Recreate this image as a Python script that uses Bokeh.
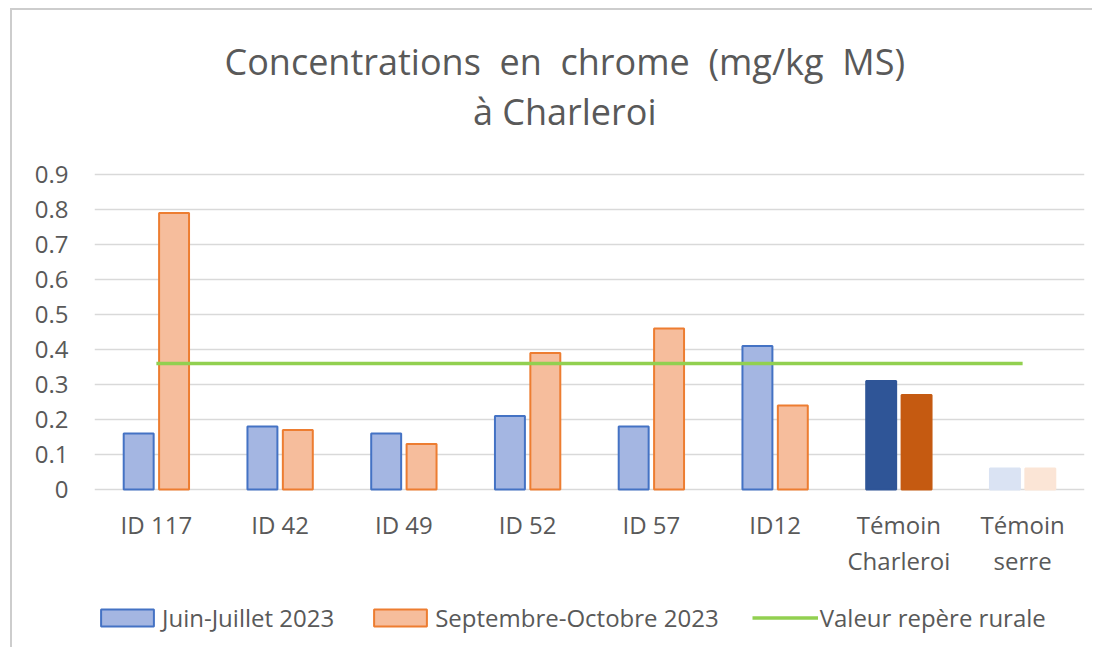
from bokeh.plotting import figure
from bokeh.models import ColumnDataSource, FactorRange, Range1d, Label, Legend, LegendItem
from bokeh.transform import dodge
from bokeh.core.properties import value
from bokeh.embed import file_html
from bokeh.resources import INLINE

categories = ["ID 117", "ID 42", "ID 49", "ID 52", "ID 57", "ID12", "Témoin\nCharleroi", "Témoin\nserre"]
juin_juillet = [0.16, 0.18, 0.16, 0.21, 0.18, 0.41, 0.31, 0.06]
sept_oct = [0.79, 0.17, 0.13, 0.39, 0.46, 0.24, 0.27, 0.06]
valeur_repere = [0.36] * len(categories)
y_ticks = [0, 0.1, 0.2, 0.3, 0.4, 0.5, 0.6, 0.7, 0.8, 0.9]
series_names = ["Juin-Juillet 2023", "Septembre-Octobre 2023", "Valeur repère rurale"]
title_lines = ["Concentrations en chrome (mg/kg MS)", "à Charleroi"]

FONT = "Open Sans"
GREY = "#595959"

blue_fill = ["#A4B6E2"] * 6 + ["#2F5597", "#DAE3F3"]
blue_line = ["#4472C4"] * 6 + ["#2F5597", "#DAE3F3"]
orange_fill = ["#F6BD9C"] * 6 + ["#C55A11", "#FBE5D6"]
orange_line = ["#ED7D31"] * 6 + ["#C55A11", "#FBE5D6"]

src = ColumnDataSource(dict(cat=categories, a=juin_juillet, b=sept_oct, ref=valeur_repere,
                            zero=[0] * len(categories),
                            bf=blue_fill, bl=blue_line, of=orange_fill, ol=orange_line))

# frame: 990 x 620 px, 350 px per 1.0 unit on y; room above for the title, below for labels/legend
p = figure(width=1082, height=639, x_range=FactorRange(*categories),
           y_range=Range1d(-0.4571, 1.3143), title_location=None,
           output_backend="svg", toolbar_location=None,
           min_border_left=82, min_border_right=10, min_border_top=19, min_border_bottom=0)
p.styles = {"border-left": "2px solid #CDCDCD", "border-top": "2px solid #CDCDCD",
            "margin-left": "10px", "margin-top": "8px"}
p.outline_line_color = None

r1 = p.vbar(x=dodge("cat", -0.143, range=p.x_range), top="a", width=0.242, source=src,
            fill_color="bf", line_color="bl", line_width=2)
r2 = p.vbar(x=dodge("cat", 0.143, range=p.x_range), top="b", width=0.242, source=src,
            fill_color="of", line_color="ol", line_width=2)
r3 = p.line(x="cat", y="ref", source=src, line_color="#92D050", line_width=3.5)

# category labels under the zero line
p.text(x="cat", y="zero", text="cat", source=src, text_align="center", text_baseline="top",
       y_offset=18, text_font=value(FONT), text_font_size="24px", text_color=GREY,
       text_line_height=1.1)

p.xaxis.visible = False
p.yaxis.ticker = y_ticks
p.ygrid.ticker = y_ticks
p.ygrid.grid_line_color = "#D9D9D9"
p.ygrid.grid_line_width = 1.5
p.xgrid.grid_line_color = None
p.yaxis.axis_line_color = None
p.yaxis.major_tick_line_color = None
p.yaxis.minor_tick_line_color = None
p.yaxis.major_label_text_font = FONT
p.yaxis.major_label_text_color = GREY
p.yaxis.major_label_text_font_size = "24px"
p.yaxis.major_label_standoff = 20

# Excel-like wide word spacing in the first title line
title1 = title_lines[0].replace(" ", " \u00a0")
p.add_layout(Label(x=3.8, y=1.223, text=title1, text_align="center",
                   text_baseline="middle", text_font=FONT, text_font_size="36px",
                   text_color=GREY))
p.add_layout(Label(x=3.8, y=1.08, text=title_lines[1], text_align="center",
                   text_baseline="middle", text_font=FONT, text_font_size="36px",
                   text_color=GREY))

legend = Legend(items=[LegendItem(label=series_names[0], renderers=[r1], index=0),
                       LegendItem(label=series_names[1], renderers=[r2], index=0),
                       LegendItem(label=series_names[2], renderers=[r3])],
                orientation="horizontal", location=(0, 15),
                glyph_width=66, glyph_height=21, label_height=24, label_standoff=2,
                spacing=33, padding=0, margin=0, border_line_color=None,
                background_fill_alpha=0, label_text_font=FONT, label_text_color=GREY,
                label_text_font_size="24px")
p.add_layout(legend, "center")

open("out.html", "w").write(file_html(p, INLINE))
